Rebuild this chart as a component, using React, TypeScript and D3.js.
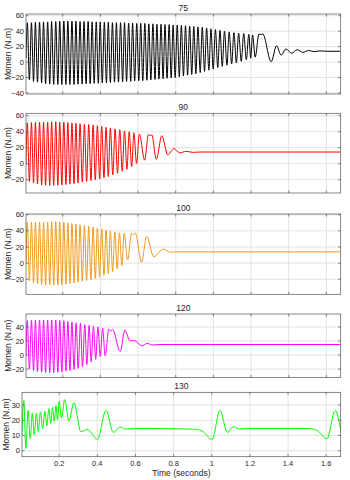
import React from "react";
import * as d3 from "d3";

// torque traces, [time (s), torque (N.m)] at each turning point
const trace75: [number, number][] = [
  [0.005, 5],
  [0.012, 51], [0.023, -23], [0.034, 51], [0.045, -25], [0.055, 51.5], [0.066, -26],
  [0.077, 51.5], [0.088, -27], [0.098, 52], [0.109, -28], [0.12, 52], [0.131, -28.5],
  [0.141, 52.5], [0.152, -29], [0.163, 52.5], [0.174, -29], [0.184, 53], [0.195, -29],
  [0.206, 53], [0.217, -29], [0.227, 53], [0.238, -29], [0.249, 53], [0.26, -29],
  [0.27, 53], [0.281, -28.5], [0.292, 52.5], [0.303, -28.5], [0.313, 52.5], [0.324, -28],
  [0.335, 52.5], [0.346, -28], [0.356, 52], [0.367, -27.5], [0.378, 52], [0.389, -27.5],
  [0.399, 52], [0.41, -27], [0.421, 51.5], [0.432, -27], [0.442, 51.5], [0.453, -26.5],
  [0.464, 51], [0.475, -26], [0.485, 51], [0.496, -26], [0.507, 51], [0.518, -25.5],
  [0.528, 51], [0.539, -25], [0.55, 50.5], [0.561, -25], [0.571, 50.5], [0.582, -24.5],
  [0.593, 50], [0.604, -24], [0.614, 50], [0.625, -24], [0.636, 50], [0.647, -23.5],
  [0.657, 49.5], [0.668, -23], [0.679, 49.5], [0.69, -22.5], [0.7, 49], [0.711, -22],
  [0.722, 49], [0.733, -21.5], [0.743, 48.5], [0.754, -21], [0.765, 48.5], [0.776, -20.5],
  [0.786, 48], [0.797, -20], [0.808, 48], [0.819, -19], [0.83, 47.5], [0.841, -18],
  [0.852, 47], [0.863, -17], [0.874, 46.5], [0.885, -16], [0.896, 46], [0.907, -15],
  [0.918, 45.5], [0.93, -13.5], [0.941, 45], [0.953, -12], [0.964, 44], [0.976, -10.5],
  [0.987, 43], [0.999, -9], [1.011, 42], [1.023, -7], [1.035, 41], [1.047, -5.5],
  [1.059, 40], [1.072, -4], [1.084, 39], [1.097, -2.5], [1.109, 38], [1.122, -1],
  [1.134, 37.5], [1.148, 1], [1.161, 37], [1.175, 3], [1.188, 36], [1.198, 5],
  [1.208, 35], [1.222, 6.5], [1.242, 36.5], [1.252, 35.5], [1.262, 36.5], [1.307, 0.5],
  [1.335, 21], [1.36, 9], [1.385, 17], [1.415, 11.5], [1.445, 16], [1.475, 12.5],
  [1.505, 15], [1.535, 13.5], [1.565, 14.5], [1.6, 14], [1.676, 14],
];

const trace90: [number, number][] = [
  [0.005, 0],
  [0.012, 51], [0.023, -22], [0.034, 51.5], [0.045, -24], [0.055, 51.5], [0.066, -25.5],
  [0.077, 52], [0.088, -26.5], [0.098, 52], [0.109, -27], [0.12, 52], [0.131, -27],
  [0.141, 52.5], [0.152, -27], [0.163, 52.5], [0.174, -27], [0.184, 52], [0.195, -26.5],
  [0.206, 52], [0.217, -26], [0.227, 51.5], [0.238, -25.5], [0.249, 51], [0.26, -25],
  [0.27, 50.5], [0.281, -24], [0.292, 50], [0.304, -23], [0.315, 49.5], [0.327, -22],
  [0.338, 49], [0.35, -21], [0.361, 48.5], [0.373, -20], [0.384, 47.5], [0.396, -19],
  [0.407, 46.5], [0.419, -17.5], [0.43, 45.5], [0.442, -16], [0.453, 44.5], [0.466, -14],
  [0.478, 43.5], [0.491, -12], [0.503, 42.5], [0.516, -9.5], [0.528, 41], [0.541, -7],
  [0.553, 40], [0.566, -3.5], [0.578, 38.5], [0.592, 0], [0.607, 37], [0.635, 4.5],
  [0.655, 36.5], [0.664, 35], [0.673, 36], [0.697, 5.5], [0.726, 35], [0.758, 11],
  [0.79, 19], [0.822, 13.5], [0.855, 15.5], [0.89, 14.2], [0.93, 14.6], [1.676, 14.6],
];

const trace100: [number, number][] = [
  [0.005, 0],
  [0.012, 50.5], [0.023, -22], [0.034, 51], [0.045, -24], [0.055, 51], [0.066, -25.5],
  [0.077, 51], [0.088, -26.5], [0.098, 51], [0.109, -27], [0.12, 51], [0.131, -27],
  [0.141, 51.5], [0.152, -27], [0.163, 51.5], [0.174, -27], [0.184, 51], [0.195, -26.5],
  [0.206, 50.5], [0.217, -26], [0.227, 50], [0.238, -25], [0.249, 49], [0.26, -24.5],
  [0.27, 48.5], [0.281, -23.5], [0.292, 47.5], [0.304, -22.5], [0.315, 46.5], [0.327, -21.5],
  [0.338, 45.5], [0.35, -20.5], [0.361, 44.5], [0.373, -19], [0.384, 43.5], [0.396, -17],
  [0.407, 42.5], [0.419, -15], [0.43, 41], [0.442, -13], [0.453, 40], [0.465, -10.5],
  [0.477, 38.5], [0.489, -7], [0.501, 37.5], [0.514, -3], [0.526, 37], [0.545, 4],
  [0.565, 37], [0.575, 35], [0.585, 37.5], [0.619, 1], [0.645, 33], [0.684, 8],
  [0.734, 17.5], [0.77, 13.5], [0.8, 14], [1.676, 14],
];

const trace120: [number, number][] = [
  [0.005, 0],
  [0.012, 49], [0.023, -20], [0.034, 49.5], [0.045, -22], [0.055, 49.5], [0.066, -23.5],
  [0.077, 50], [0.088, -24.5], [0.098, 50], [0.109, -25], [0.12, 50], [0.131, -25],
  [0.141, 50], [0.152, -25], [0.163, 50], [0.174, -24.5], [0.184, 49.5], [0.195, -24],
  [0.206, 49], [0.217, -23], [0.227, 48], [0.238, -22], [0.249, 47], [0.26, -20.5],
  [0.271, 46], [0.282, -19], [0.294, 45], [0.305, -16.5], [0.317, 43.5], [0.328, -13.5],
  [0.34, 42], [0.351, -10], [0.363, 41], [0.375, -6], [0.387, 40], [0.399, -2],
  [0.412, 38.5], [0.425, -1], [0.445, 37], [0.455, 34], [0.465, 36.5], [0.505, 5],
  [0.53, 35.5], [0.558, 20], [0.575, 21], [0.59, 19.5], [0.62, 13], [0.648, 16.5],
  [0.68, 14.3], [0.71, 15], [1.676, 15],
];

const trace130: [number, number][] = [
  [0.004, 10],
  [0.0147, 33], [0.025, 1.5], [0.037, 26.5], [0.048, 8], [0.059, 24.5], [0.069, 10.5],
  [0.081, 24.5], [0.09, 12.5], [0.102, 25.5], [0.113, 14.5], [0.125, 26], [0.135, 16.5],
  [0.146, 27.5], [0.156, 18], [0.165, 28.5], [0.174, 19.5], [0.183, 29.5], [0.191, 20.5],
  [0.2, 32.5], [0.212, 21.5], [0.229, 33.5], [0.251, 19.5], [0.277, 31.5], [0.314, 12.5],
  [0.347, 14], [0.401, 7.5], [0.445, 26.5], [0.484, 12], [0.519, 15.5], [0.55, 14.2],
  [0.6, 14.6], [0.9, 14.2], [0.95, 12.8], [1.002, 7.5], [1.043, 26.5], [1.082, 12],
  [1.114, 15.8], [1.145, 14.2], [1.18, 14.6], [1.5, 14.6], [1.55, 13.5], [1.604, 7.8],
  [1.647, 26.5], [1.676, 13.5],
];

const traces = [trace75, trace90, trace100, trace120, trace130];
const titles = ["75", "90", "100", "120", "130"];
const colors = ["#000000", "#ff0000", "#f09a1a", "#ff00ff", "#00ff00"];
const yTicks = [
  [-40, -20, 0, 20, 40, 60],
  [-20, 0, 20, 40, 60],
  [-20, 0, 20, 40, 60],
  [-20, 0, 20, 40],
  [0, 10, 20, 30],
];
const yLimits = [
  [-41.3, 62.2],
  [-36.6, 63],
  [-38.6, 60.9],
  [-32, 58.5],
  [-3.9, 38.3],
];
const xLimits = [0.005, 1.676];
const xTicks = [0.2, 0.4, 0.6, 0.8, 1, 1.2, 1.4, 1.6];

// subplot boxes (px)
const boxes = [
  { top: 14, bottom: 94, left: 26 },
  { top: 113.3, bottom: 193, left: 26 },
  { top: 214, bottom: 294.3, left: 26 },
  { top: 314, bottom: 377.5, left: 26 },
  { top: 392.3, bottom: 456.7, left: 22 },
];
const RIGHT = 340.7;
const FONT = "'Liberation Sans', Arial, sans-serif";
const TEXT = "#262626";

function Panel({ i }: { i: number }) {
  const b = boxes[i];
  const last = i === boxes.length - 1;
  const x = d3.scaleLinear().domain(xLimits).range([b.left, RIGHT]);
  const y = d3.scaleLinear().domain(yLimits[i]).range([b.bottom, b.top]);
  const line = d3
    .line<[number, number]>()
    .x((d) => x(d[0]))
    .y((d) => y(d[1]))
    .curve(d3.curveMonotoneX);
  const clipId = `clip${i}`;
  const fmt = d3.format("~g");
  const midY = (b.top + b.bottom) / 2;

  return (
    <g>
      <clipPath id={clipId}>
        <rect x={b.left} y={b.top} width={RIGHT - b.left} height={b.bottom - b.top} />
      </clipPath>
      {/* grid */}
      {xTicks.map((t) => (
        <line key={"gx" + t} x1={x(t)} x2={x(t)} y1={b.top} y2={b.bottom} stroke="#dcdcdc" strokeWidth={0.8} />
      ))}
      {yTicks[i].map((t) => (
        <line key={"gy" + t} x1={b.left} x2={RIGHT} y1={y(t)} y2={y(t)} stroke="#dcdcdc" strokeWidth={0.8} />
      ))}
      <path d={line(traces[i]) || ""} fill="none" stroke={colors[i]} strokeWidth={1} clipPath={`url(#${clipId})`} />
      {/* box and inward ticks */}
      <rect x={b.left} y={b.top} width={RIGHT - b.left} height={b.bottom - b.top} fill="none" stroke="#555" strokeWidth={0.7} />
      {xTicks.map((t) => (
        <g key={"tx" + t} stroke="#555" strokeWidth={0.7}>
          <line x1={x(t)} x2={x(t)} y1={b.bottom} y2={b.bottom - 2.5} />
          <line x1={x(t)} x2={x(t)} y1={b.top} y2={b.top + 2.5} />
        </g>
      ))}
      {yTicks[i].map((t) => (
        <g key={"ty" + t} stroke="#555" strokeWidth={0.7}>
          <line x1={b.left} x2={b.left + 2.5} y1={y(t)} y2={y(t)} />
          <line x1={RIGHT} x2={RIGHT - 2.5} y1={y(t)} y2={y(t)} />
        </g>
      ))}
      {yTicks[i].map((t) => (
        <text key={"ly" + t} x={b.left - 2} y={y(t)} dy="0.35em" textAnchor="end" fontSize={7.5} fill={TEXT} fontFamily={FONT}>
          {fmt(t)}
        </text>
      ))}
      {last &&
        xTicks.map((t) => (
          <text key={"lx" + t} x={x(t)} y={b.bottom + 9} textAnchor="middle" fontSize={7.5} fill={TEXT} fontFamily={FONT}>
            {fmt(t)}
          </text>
        ))}
      <text x={(b.left + RIGHT) / 2} y={b.top - 3} textAnchor="middle" fontSize={8.5} fill={TEXT} fontFamily={FONT}>
        {titles[i]}
      </text>
      <text
        transform={`translate(${last ? 9 : 11},${midY}) rotate(-90)`}
        textAnchor="middle"
        fontSize={8.5}
        fill={TEXT}
        fontFamily={FONT}
      >
        Momen (N.m)
      </text>
      {last && (
        <text x={(b.left + RIGHT) / 2} y={b.bottom + 19} textAnchor="middle" fontSize={8.5} fill={TEXT} fontFamily={FONT}>
          Time (seconds)
        </text>
      )}
    </g>
  );
}

export default function App() {
  return (
    <svg width={350} height={480} style={{ position: "absolute", left: 0, top: 0, background: "#fff" }}>
      <rect width={350} height={480} fill="#fff" />
      {boxes.map((_, i) => (
        <Panel key={i} i={i} />
      ))}
    </svg>
  );
}
